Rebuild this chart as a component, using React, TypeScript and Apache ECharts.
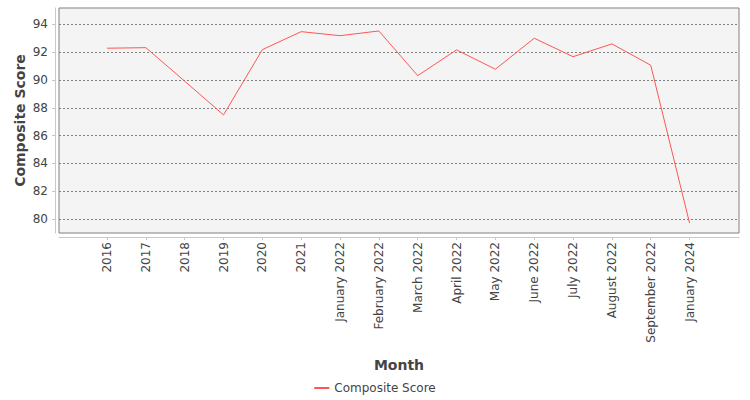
import React, { useEffect, useRef } from "react";
import * as echarts from "echarts";

const categories = [
  "2016", "2017", "2018", "2019", "2020", "2021",
  "January 2022", "February 2022", "March 2022", "April 2022", "May 2022",
  "June 2022", "July 2022", "August 2022", "September 2022", "January 2024",
];
const compositeScore = [
  92.28, 92.32, 89.91, 87.49, 92.18, 93.47, 93.18, 93.52, 90.31, 92.16, 90.77,
  93.0, 91.67, 92.59, 91.06, 79.71,
];
const yTicks = [80, 82, 84, 86, 88, 90, 92, 94];

const FONT = "DejaVu Sans";

export default function App() {
  const ref = useRef<HTMLDivElement>(null);
  useEffect(() => {
    if (!ref.current) return;
    const chart = echarts.init(ref.current, null, { renderer: "svg" });
    const idx = categories.map((_, i) => i);
    chart.setOption({
      animation: false,
      backgroundColor: "#ffffff",
      textStyle: { fontFamily: FONT },
      grid: {
        left: 59,
        right: 11,
        top: 8,
        height: 225,
        show: true,
        backgroundColor: "#f4f4f4",
        borderColor: "#808080",
        borderWidth: 1,
      },
      legend: {
        top: 377,
        left: "center",
        itemWidth: 15,
        itemHeight: 2,
        itemGap: 6,
        icon: "rect",
        textStyle: { color: "#444", fontSize: 12, fontFamily: FONT },
        data: ["Composite Score"],
      },
      xAxis: {
        type: "value",
        min: -1.237,
        max: 16.273,
        offset: 4,
        name: "Month",
        nameLocation: "middle",
        nameGap: 121,
        nameMoveOverlap: false,
        nameTextStyle: { fontFamily: FONT, fontSize: 14, fontWeight: "bold", color: "#444" },
        axisLine: { show: true, onZero: false, lineStyle: { color: "#c8c8c8", width: 1 } },
        axisTick: { show: true, length: 3, customValues: idx, lineStyle: { color: "#c8c8c8" } },
        axisLabel: {
          customValues: idx,
          rotate: 90,
          margin: 5,
          color: "#444",
          fontSize: 12,
          fontFamily: FONT,
          formatter: (v: number) => categories[Math.round(v)] ?? "",
        },
        splitLine: { show: false },
      },
      yAxis: {
        type: "value",
        min: 79.0,
        max: 95.17,
        offset: 4,
        name: "Composite Score",
        nameLocation: "middle",
        nameGap: 28,
        nameMoveOverlap: false,
        nameTextStyle: { fontFamily: FONT, fontSize: 14, fontWeight: "bold", color: "#444" },
        axisLine: { show: true, onZero: false, lineStyle: { color: "#c8c8c8", width: 1 } },
        axisTick: { show: true, length: 3, customValues: yTicks, lineStyle: { color: "#c8c8c8" } },
        axisLabel: {
          customValues: yTicks,
          margin: 7,
          color: "#444",
          fontSize: 12,
          fontFamily: FONT,
        },
        splitLine: {
          show: true,
          lineStyle: { color: "#808080", width: 1, type: [2, 2] },
        },
      },
      series: [
        {
          name: "Composite Score",
          type: "line",
          symbol: "none",
          data: compositeScore.map((v, i) => [i, v]),
          lineStyle: { color: "#ff5555", width: 1 },
          itemStyle: { color: "#ff5555" },
        },
      ],
    });
    return () => chart.dispose();
  }, []);
  return (
    <div
      ref={ref}
      style={{ position: "absolute", left: 0, top: 0, width: 750, height: 400 }}
    />
  );
}
